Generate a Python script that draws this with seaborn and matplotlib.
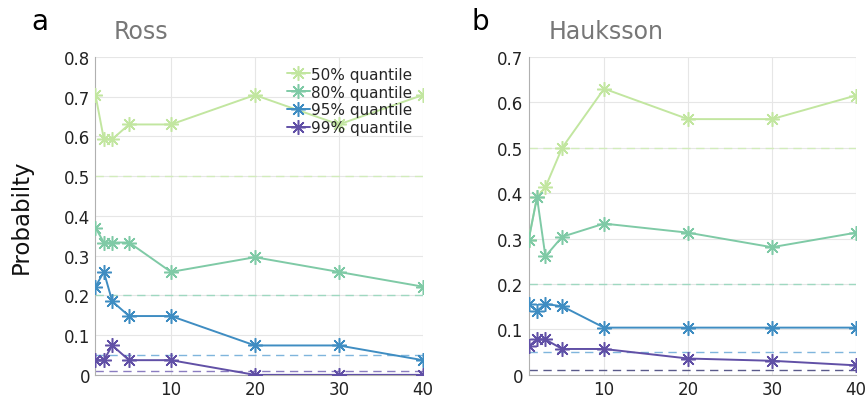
import numpy as np
import pandas as pd
import matplotlib
matplotlib.use("Agg")
import matplotlib.pyplot as plt
import seaborn as sns
from matplotlib.ticker import FuncFormatter

windows = [1, 2, 3, 5, 10, 20, 30, 40]
quantiles = ["50% quantile", "80% quantile", "95% quantile", "99% quantile"]
thresholds = [0.5, 0.2, 0.05, 0.01]

ross_50 = [0.704, 0.593, 0.593, 0.630, 0.630, 0.704, 0.630, 0.704]
ross_80 = [0.370, 0.333, 0.333, 0.333, 0.259, 0.296, 0.259, 0.222]
ross_95 = [0.222, 0.259, 0.185, 0.148, 0.148, 0.074, 0.074, 0.037]
ross_99 = [0.037, 0.037, 0.074, 0.037, 0.037, 0.0, 0.0, 0.0]

hauk_50 = [0.297, 0.391, 0.413, 0.500, 0.630, 0.563, 0.563, 0.615]
hauk_80 = [0.297, 0.391, 0.261, 0.304, 0.333, 0.313, 0.281, 0.313]
hauk_95 = [0.156, 0.141, 0.156, 0.151, 0.104, 0.104, 0.104, 0.104]
hauk_99 = [0.063, 0.078, 0.078, 0.057, 0.057, 0.036, 0.031, 0.021]

colors = ["#c2e6a0", "#7fcaa6", "#3f8dc2", "#6150a6"]
dash_colors = ["#d2ecbb", "#9fd8c0", "#7fb5dc", "#8a7cc0"]

def long_df(series):
    rows = []
    for q, vals in zip(quantiles, series):
        for w, v in zip(windows, vals):
            rows.append({"window": w, "prob": v, "quantile": q})
    return pd.DataFrame(rows)

sns.set_theme(style="white")
plt.rcParams['font.family'] = ['DejaVu Sans']

fig = plt.figure(figsize=(8.68, 4.02), dpi=100)
ax1 = fig.add_axes([0.110, 0.065, 0.377, 0.791])
ax2 = fig.add_axes([0.609, 0.065, 0.377, 0.791])

panels = [
    (ax1, [ross_50, ross_80, ross_95, ross_99], "Ross", 0.8, "a", dash_colors),
    (ax2, [hauk_50, hauk_80, hauk_95, hauk_99], "Hauksson", 0.7, "b",
     dash_colors[:3] + ["#5a5a8a"]),
]

for i, (ax, series, title, ymax, letter, dcols) in enumerate(panels):
    df = long_df(series)
    for t, c in zip(thresholds, dcols):
        ax.axhline(t, color=c, lw=1.0, ls=(0, (6, 4)), zorder=1)
    sns.lineplot(data=df, x="window", y="prob", hue="quantile",
                 palette=colors, marker=(8, 2, 0), markersize=10.5,
                 markeredgewidth=1.1, lw=1.4, ax=ax, legend=(i == 0),
                 zorder=3)
    for line in ax.get_lines():
        if line.get_marker() is not None and line.get_marker() != "None":
            line.set_markeredgecolor(line.get_color())
    ax.set_xlim(1, 40)
    ax.set_ylim(0, ymax)
    ax.set_xticks([10, 20, 30, 40])
    ax.set_yticks(np.round(np.arange(0, ymax + 0.001, 0.1), 1))
    ax.yaxis.set_major_formatter(FuncFormatter(lambda v, p: "0" if abs(v) < 1e-9 else f"{v:.1f}"))
    ax.grid(True, color="#e6e6e6", lw=0.8)
    ax.set_axisbelow(True)
    for s in ["top", "right"]:
        ax.spines[s].set_visible(False)
    for s in ["left", "bottom"]:
        ax.spines[s].set_color("#b0b0b0")
        ax.spines[s].set_linewidth(0.8)
    ax.tick_params(axis="both", labelsize=12, colors="#222222", length=0, pad=4)
    ax.set_xlabel("")
    ax.set_ylabel("")
    ax.text(0.055 if i == 0 else 0.06, 1.045, title, transform=ax.transAxes,
            fontsize=17, color="#777777", ha="left", va="bottom")

ax1.set_ylabel("Probabilty", fontsize=16.5, color="#111111", labelpad=22)
fig.text(0.036, 0.945, "a", fontsize=20, color="black", ha="left", va="center")
fig.text(0.543, 0.945, "b", fontsize=20, color="black", ha="left", va="center")

leg = ax1.legend(loc="upper right", frameon=False, fontsize=11,
                 handlelength=1.5, handletextpad=0.1, labelspacing=0.18,
                 borderaxespad=0.25, title=None)
for h in leg.legend_handles:
    h.set_markeredgecolor(h.get_color())

fig.savefig("out.png", dpi=100)
